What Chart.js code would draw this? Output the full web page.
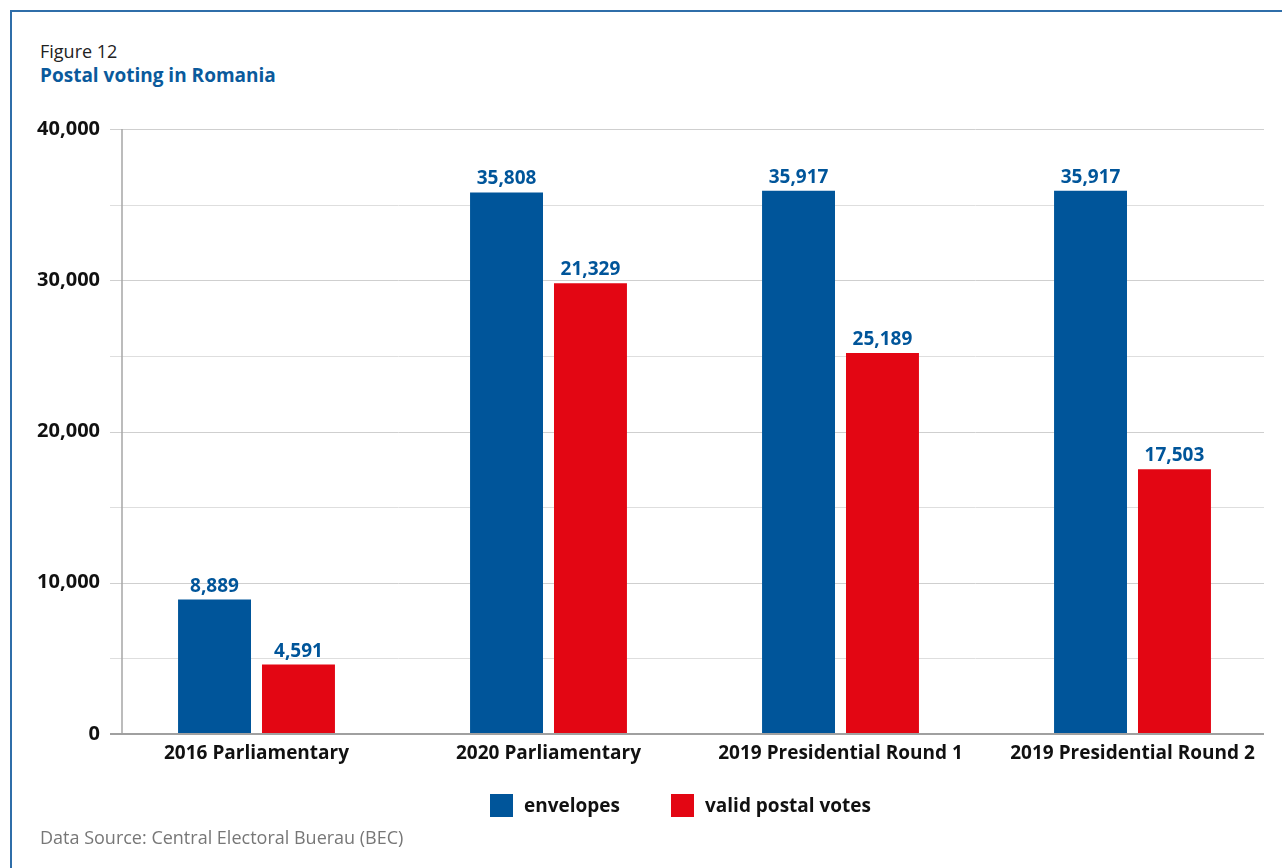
<!doctype html>
<html lang="en">
<head>
<meta charset="utf-8">
<title>Postal voting in Romania</title>
<script src="https://cdn.jsdelivr.net/npm/chart.js@4.4.1/dist/chart.umd.min.js"></script>
<style>
    html, body { margin: 0; padding: 0; background: #fff; }
    body { width: 1282px; height: 868px; position: relative; overflow: hidden; font-family: "Open Sans", "Noto Sans", sans-serif; }
    .frame { position: absolute; left: 10px; top: 10px; width: 1400px; height: 1000px; border-left: 2px solid #2f6ea9; border-top: 2px solid #2f6ea9; }
    .fig { position: absolute; left: 40px; top: 39px; font-size: 18px; color: #222; }
    .ttl { position: absolute; left: 40px; top: 62px; font-size: 19px; font-weight: bold; color: #0a5a9c; }
    .src { position: absolute; left: 40px; top: 825px; font-size: 18px; color: #777; }
    .lg { position: absolute; top: 794px; font-size: 19px; font-weight: bold; color: #111; line-height: 23px; }
    .lg span { display: inline-block; width: 23px; height: 23px; vertical-align: top; margin-right: 11px; }
    #wrap { position: absolute; left: 0; top: 0; width: 1282px; height: 868px; }
</style>
</head>
<body>
    <div class="frame"></div>
    <div class="fig">Figure 12</div>
    <div class="ttl">Postal voting in Romania</div>
    <div id="wrap"><canvas id="myChart"></canvas></div>
    <div class="lg" id="lg0" style="left:490px"><span style="background:#00559a"></span>envelopes</div>
    <div class="lg" id="lg1" style="left:671px"><span style="background:#e30613"></span>valid postal votes</div>
    <div class="src">Data Source: Central Electoral Buerau (BEC)</div>

<script>
    var categories = ['2016 Parliamentary', '2020 Parliamentary', '2019 Presidential Round 1', '2019 Presidential Round 2'];
    var envelopes = [8889, 35808, 35917, 35917];
    var envelopesPrinted = ['8,889', '35,808', '35,917', '35,917'];
    // bar heights as drawn in the figure (2020 bar is drawn near 29,800 but printed 21,329)
    var validVotes = [4591, 29800, 25189, 17503];
    var validPrinted = ['4,591', '21,329', '25,189', '17,503'];
    var yMax = 40000;
    var yStep = 5000;
    var yLabelStep = 10000;

    var BLUE = '#00559a';
    var RED = '#e30613';
    var FONT = '"Open Sans", "Noto Sans", sans-serif';

    // grid lines, axis lines and value labels
    var decor = {
        id: 'decor',
        beforeDatasetsDraw: function (chart) {
            var c = chart.ctx, y = chart.scales.y, a = chart.chartArea;
            c.save();
            y.ticks.forEach(function (t) {
                if (t.value === 0) return;
                var py = Math.round(y.getPixelForValue(t.value)) + 0.5;
                c.strokeStyle = (t.value % yLabelStep === 0) ? '#cfcfcf' : '#dedede';
                c.lineWidth = 1;
                c.beginPath(); c.moveTo(110, py); c.lineTo(1264, py); c.stroke();
            });
            c.strokeStyle = '#a6a6a6';
            c.lineWidth = 1.5;
            c.beginPath(); c.moveTo(122, a.top); c.lineTo(122, a.bottom); c.stroke();
            c.restore();
        },
        afterDatasetsDraw: function (chart) {
            var c = chart.ctx, y = chart.scales.y;
            c.save();
            var py = y.getPixelForValue(0);
            c.strokeStyle = '#a0a0a0';
            c.lineWidth = 2;
            c.beginPath(); c.moveTo(110, py); c.lineTo(1264, py); c.stroke();
            c.fillStyle = BLUE;
            c.font = 'bold 19px ' + FONT;
            c.textAlign = 'center';
            c.textBaseline = 'alphabetic';
            var printed = [envelopesPrinted, validPrinted];
            chart.data.datasets.forEach(function (ds, di) {
                chart.getDatasetMeta(di).data.forEach(function (bar, i) {
                    c.fillText(printed[di][i], bar.x, bar.y - 8);
                });
            });
            c.restore();
        }
    };

    var ctx = document.getElementById('myChart');
    var myChart = new Chart(ctx, {
        type: 'bar',
        data: {
            labels: categories,
            datasets: [{
                label: 'envelopes',
                data: envelopes,
                backgroundColor: BLUE,
                categoryPercentage: 0.575,
                barPercentage: 0.869
            }, {
                label: 'valid postal votes',
                data: validVotes,
                backgroundColor: RED,
                categoryPercentage: 0.575,
                barPercentage: 0.869
            }]
        },
        options: {
            responsive: true,
            maintainAspectRatio: false,
            animation: false,
            layout: { padding: { top: 129, bottom: 0, left: 0, right: 3.5 } },
            plugins: {
                legend: { display: false },
                tooltip: { enabled: false }
            },
            scales: {
                x: {
                    grid: { display: false, drawTicks: false },
                    border: { display: false },
                    ticks: { color: '#111', font: { family: FONT, size: 19, weight: 'bold' }, padding: 8, maxRotation: 0 },
                    afterFit: function (s) { s.height = 134; }
                },
                y: {
                    min: 0, max: yMax,
                    grid: { display: false, drawTicks: false },
                    border: { display: false },
                    ticks: {
                        stepSize: yStep,
                        color: '#111',
                        padding: 10.5,
                        font: { family: FONT, size: 20, weight: 'bold' },
                        callback: function (v) { return v % yLabelStep === 0 ? v.toLocaleString('en-US') : ''; }
                    },
                    afterFit: function (s) { s.width = 110.5; }
                }
            }
        },
        plugins: [decor]
    });
</script>
</body>
</html>
